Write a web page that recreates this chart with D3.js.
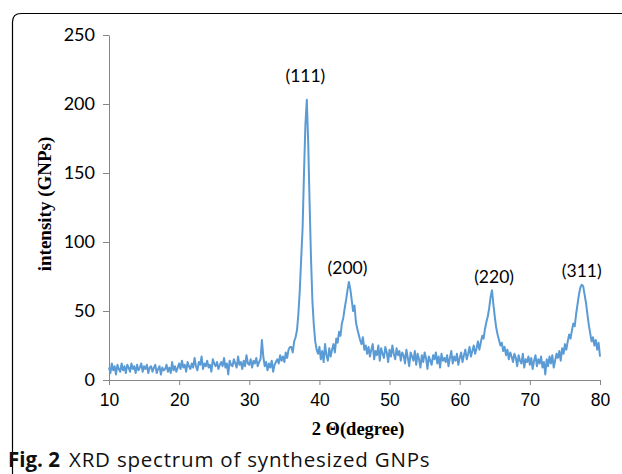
<!DOCTYPE html>
<html>
<head>
<meta charset="utf-8">
<script src="https://cdn.jsdelivr.net/npm/d3@7"></script>
<style>
  body { margin: 0; background: #fff; }
  svg { display: block; }
</style>
</head>
<body>
<div id="chart-area"></div>
<script>
// XRD spectrum, 2 theta from 10 to 80 every 0.2 degree
const ANGLE_START = 10;
const ANGLE_STEP = 0.2;
const intensity = [
  9, 5, 12, 7, 10, 4, 11, 8, 6, 12,
  7, 10, 5, 11, 9, 6, 12, 8, 10, 5,
  11, 7, 9, 12, 6, 10, 8, 11, 5, 9,
  10, 6, 9, 11, 5, 8, 10, 4, 9, 7,
  8, 11, 6, 9, 5, 13, 7, 10, 6, 9,
  12, 8, 14, 9, 11, 6, 13, 10, 8, 12,
  9, 16, 10, 7, 13, 11, 17, 8, 12, 10,
  14, 9, 11, 6, 15, 12, 10, 13, 8, 11,
  13, 10, 16, 9, 12, 4, 14, 11, 10, 15,
  12, 9, 17, 11, 13, 8, 14, 10, 18, 12,
  11, 15, 9, 14, 12, 16, 10, 13, 15, 29,
  17, 10, 13, 7, 12, 9, 14, 6, 11, 13,
  15, 12, 18, 14, 17, 13, 20, 16, 22, 24,
  24, 20, 28, 31, 36, 48, 65, 88, 110, 150,
  185, 203, 172, 128, 88, 57, 40, 28, 22, 19,
  24, 15, 21, 13, 26, 18, 14, 23, 17, 22,
  26, 20, 30, 27, 35, 32, 41, 45, 52, 58,
  65, 71, 66, 58, 50, 54, 42, 37, 33, 29,
  26, 31, 22, 25, 19, 24, 17, 22, 26, 15,
  21, 18, 25, 14, 23, 19, 16, 24, 20, 13,
  22, 17, 25, 19, 15, 23, 18, 21, 14, 20,
  18, 12, 22, 16, 10, 20, 17, 14, 21, 11,
  19, 15, 9, 18, 13, 20, 16, 8, 17, 14,
  11, 18, 15, 20, 12, 17, 9, 19, 14, 16,
  13, 18, 10, 16, 21, 12, 17, 14, 19, 11,
  16, 20, 13, 18, 22, 15, 19, 24, 17, 21,
  25, 19, 23, 28, 22, 27, 32, 30, 37, 42,
  46, 52, 60, 65, 55, 46, 38, 33, 29, 25,
  27, 21, 24, 18, 22, 15, 20, 17, 13, 19,
  16, 10, 18, 14, 12, 19, 9, 15, 13, 17,
  11, 16, 8, 14, 18, 10, 15, 12, 17, 9,
  13, 4, 15, 10, 17, 12, 18, 9, 14, 19,
  16, 21, 14, 23, 19, 26, 22, 28, 33, 30,
  36, 41, 39, 48, 55, 62, 67, 69, 68, 62,
  56, 48, 40, 34, 28, 31, 25, 29, 22, 27,
  17
];

// peak labels (Miller indices) and where they sit, in data units
const peakLabels = ["(111)", "(200)", "(220)", "(311)"];
const labelAngles = [38.0, 44.0, 64.9, 77.4];
const labelLevels = [216, 77, 70, 75];

const xTicks = [10, 20, 30, 40, 50, 60, 70, 80];
const yTicks = [0, 50, 100, 150, 200, 250];

const data = intensity.map((v, i) => ({ angle: ANGLE_START + i * ANGLE_STEP, value: v }));

const svg = d3.select("#chart-area").append("svg")
  .attr("width", 622)
  .attr("height", 474);

// rounded frame of the figure panel
svg.append("path")
  .attr("d", "M12.5,480 L12.5,22 Q12.5,13.5 21,13.5 L630,13.5")
  .attr("fill", "none")
  .attr("stroke", "#000")
  .attr("stroke-width", 1.2);

const x = d3.scaleLinear().domain([10, 80]).range([109, 600]);
const y = d3.scaleLinear().domain([0, 250]).range([380, 35]);

// y axis
const yAxis = svg.append("g")
  .attr("transform", "translate(109,0)")
  .call(d3.axisLeft(y).tickValues(yTicks).tickSize(6).tickPadding(8).tickSizeOuter(0));
yAxis.select(".domain").attr("stroke", "#868686");
yAxis.selectAll(".tick line").attr("stroke", "#868686");
yAxis.selectAll("text")
  .attr("font-family", "Lato, 'Open Sans', sans-serif")
  .attr("font-size", 18)
  .attr("fill", "#000");

// x axis
const xAxis = svg.append("g")
  .attr("transform", "translate(0,380)")
  .call(d3.axisBottom(x).tickValues(xTicks).tickSize(5).tickPadding(9).tickSizeOuter(0));
xAxis.select(".domain").attr("stroke", "#868686");
xAxis.selectAll(".tick line").attr("stroke", "#868686");
xAxis.selectAll("text")
  .attr("font-family", "'Liberation Sans', Arial, sans-serif")
  .attr("font-size", 17.5)
  .attr("fill", "#000");

// spectrum line
const line = d3.line()
  .x(d => x(d.angle))
  .y(d => y(d.value));

svg.append("path")
  .datum(data)
  .attr("fill", "none")
  .attr("stroke", "#5B9BD5")
  .attr("stroke-width", 2)
  .attr("stroke-linejoin", "round")
  .attr("d", line);

// peak labels
svg.selectAll(".peakLabel")
  .data(peakLabels)
  .enter()
  .append("text")
  .attr("class", "peakLabel")
  .attr("x", (d, i) => x(labelAngles[i]))
  .attr("y", (d, i) => y(labelLevels[i]))
  .attr("text-anchor", "middle")
  .attr("font-family", "Lato, 'Open Sans', sans-serif")
  .attr("font-size", 17.5)
  .text(d => d);

// axis titles
svg.append("text")
  .attr("x", 358)
  .attr("y", 435)
  .attr("text-anchor", "middle")
  .attr("font-family", "'Liberation Serif', 'Times New Roman', serif")
  .attr("font-weight", "bold")
  .attr("font-size", 18.5)
  .text("2 Θ(degree)");

svg.append("text")
  .attr("transform", "translate(51,204) rotate(-90)")
  .attr("text-anchor", "middle")
  .attr("font-family", "'Liberation Serif', 'Times New Roman', serif")
  .attr("font-weight", "bold")
  .attr("font-size", 19)
  .text("intensity (GNPs)");

// caption
const caption = svg.append("text")
  .attr("x", 8)
  .attr("y", 467)
  .attr("font-family", "'Open Sans', 'Noto Sans', sans-serif")
  .attr("font-size", 20.5)
  .attr("fill", "#111");
caption.append("tspan").attr("font-weight", "bold").text("Fig. 2");
caption.append("tspan").attr("dx", 9).attr("letter-spacing", 0.8).text("XRD spectrum of synthesized GNPs");
</script>
</body>
</html>
